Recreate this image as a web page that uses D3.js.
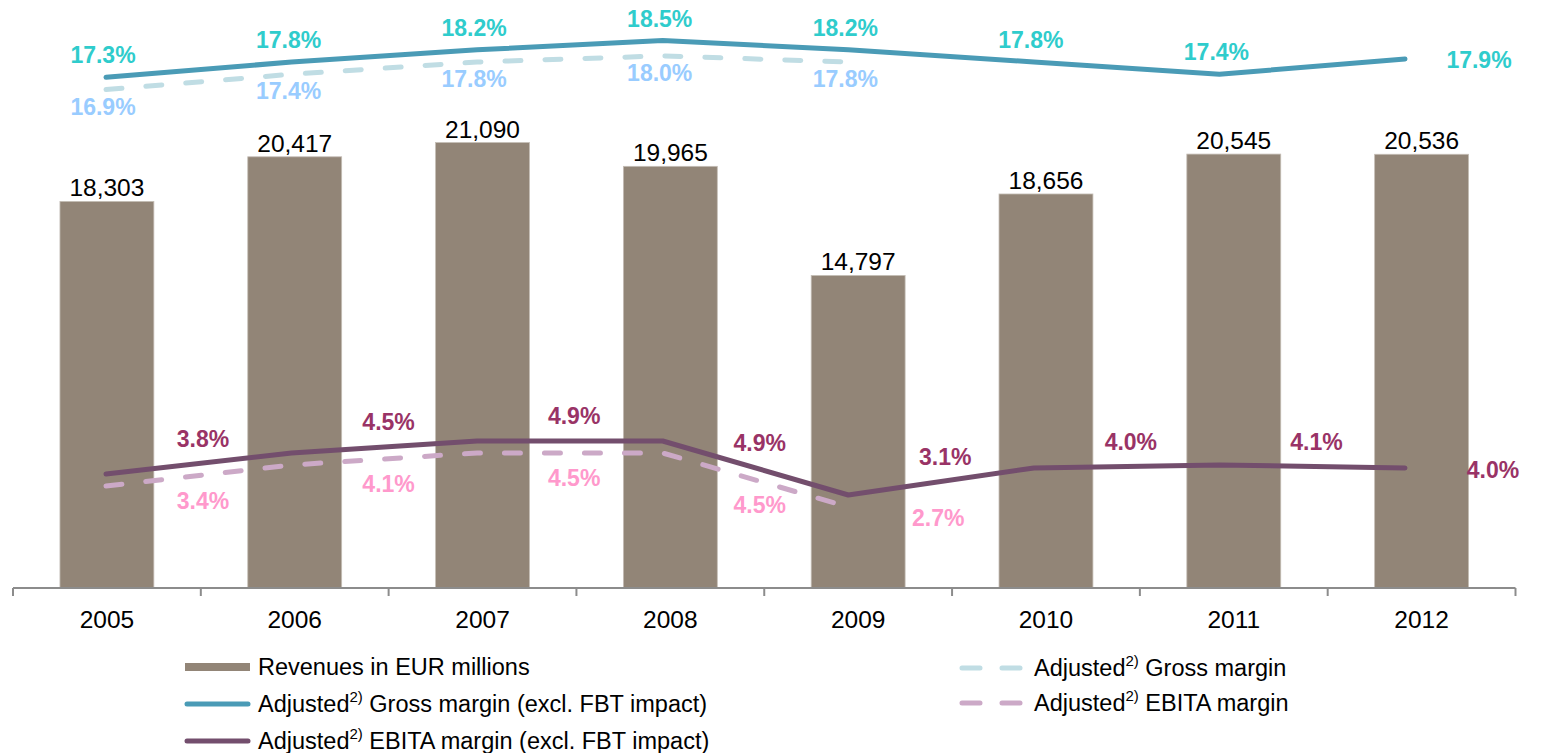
<!DOCTYPE html>
<html>
<head>
<meta charset="utf-8">
<script src="https://cdn.jsdelivr.net/npm/d3@7"></script>
<style>
  html, body { margin: 0; padding: 0; background: #fff; }
  svg { display: block; font-family: Arial, "Liberation Sans", sans-serif; }
</style>
</head>
<body>
<div id="chart"></div>
<script>
// data
const years = ['2005', '2006', '2007', '2008', '2009', '2010', '2011', '2012']
const revenues = [18303, 20417, 21090, 19965, 14797, 18656, 20545, 20536]
const grossExFbt = [17.3, 17.8, 18.2, 18.5, 18.2, 17.8, 17.4, 17.9]
const grossAdj = [16.9, 17.4, 17.8, 18.0, 17.8]
const ebitaExFbt = [3.8, 4.5, 4.9, 4.9, 3.1, 4.0, 4.1, 4.0]
const ebitaAdj = [3.4, 4.1, 4.5, 4.5, 2.7]

const W = 1546, H = 753
const axisY = 588

const svg = d3.select('#chart').append('svg').attr('width', W).attr('height', H)

const x = d3.scaleBand().domain(years).range([13, 1515.5]).paddingInner(0.5).paddingOuter(0.25)
const step = x.step()
const xl = d3.scalePoint().domain(years).range([106, 1405])
const y = d3.scaleLinear().domain([0, 20000]).range([axisY, axisY - 422.4])
const yG = d3.scaleLinear().domain([16, 19]).range([117.1, 25.3])
const yE = d3.scaleLinear().domain([2, 6]).range([528, 408])

// bars
svg.selectAll('.bar')
  .data(revenues)
  .join('rect')
  .attr('class', 'bar')
  .attr('x', (d, i) => x(years[i]))
  .attr('width', x.bandwidth())
  .attr('y', d => y(d))
  .attr('height', d => axisY - y(d))
  .attr('fill', '#928577')
  .attr('stroke', '#c4bdb5')
  .attr('stroke-width', 0.8)

svg.selectAll('.bar-label')
  .data(revenues)
  .join('text')
  .attr('x', (d, i) => x(years[i]) + x.bandwidth() / 2)
  .attr('y', d => y(d) - 5)
  .attr('text-anchor', 'middle')
  .attr('font-size', 24.5)
  .attr('fill', '#000')
  .text(d => d3.format(',')(d))

// x axis
svg.append('line')
  .attr('x1', 13).attr('x2', 13 + step * years.length)
  .attr('y1', axisY).attr('y2', axisY)
  .attr('stroke', '#8c8c8c').attr('stroke-width', 2)
d3.range(years.length + 1).forEach(i => {
  svg.append('line')
    .attr('x1', 13 + i * step).attr('x2', 13 + i * step)
    .attr('y1', axisY).attr('y2', axisY + 8)
    .attr('stroke', '#8c8c8c').attr('stroke-width', 2)
})
svg.selectAll('.year')
  .data(years)
  .join('text')
  .attr('x', d => x(d) + x.bandwidth() / 2)
  .attr('y', 628)
  .attr('text-anchor', 'middle')
  .attr('font-size', 24.5)
  .attr('fill', '#000')
  .text(d => d)

// lines
function drawLine(vals, scale, color, dashed) {
  const line = d3.line().x((d, i) => xl(years[i])).y(d => scale(d))
  svg.append('path')
    .datum(vals)
    .attr('fill', 'none')
    .attr('stroke', color)
    .attr('stroke-width', 5)
    .attr('stroke-linecap', 'round')
    .attr('stroke-linejoin', 'round')
    .attr('stroke-dasharray', dashed ? '16,24' : null)
    .attr('d', line)
}
drawLine(grossAdj, yG, '#c0dde4', true)
drawLine(grossExFbt, yG, '#4a9bb6', false)
drawLine(ebitaAdj, yE, '#cca9c7', true)
drawLine(ebitaExFbt, yE, '#734e6d', false)

const pct = d => d.toFixed(1) + '%'
function labels(vals, pos, color) {
  svg.append('g').selectAll('text')
    .data(vals)
    .join('text')
    .attr('x', (d, i) => pos(d, i)[0])
    .attr('y', (d, i) => pos(d, i)[1])
    .attr('text-anchor', 'middle')
    .attr('dominant-baseline', 'central')
    .attr('font-size', 23)
    .attr('font-weight', 'bold')
    .attr('fill', color)
    .text(pct)
}

// gross margin labels: above / below the points, last one to the right
labels(grossExFbt, (d, i) => i === grossExFbt.length - 1
  ? [xl(years[i]) + 74, yG(d) + 1]
  : [xl(years[i]) - 3, yG(d) - 22], '#2fcccc')
labels(grossAdj, (d, i) => [xl(years[i]) - 3, yG(d) + 17], '#99ccff')

// EBITA labels: in the gaps, around the segment midpoints
const mid = (vals, i) => i < vals.length - 1 ? (yE(vals[i]) + yE(vals[i + 1])) / 2 : yE(vals[i])
labels(ebitaExFbt, (d, i) => i === ebitaExFbt.length - 1
  ? [xl(years[i]) + 88, yE(d) + 2]
  : [xl(years[i]) + 97, mid(ebitaExFbt, i) - 25], '#993366')
labels(ebitaAdj, (d, i) => i === ebitaAdj.length - 1
  ? [xl(years[i]) + 90, yE(d) + 11]
  : [xl(years[i]) + 97, mid(ebitaAdj, i) + 25], '#ff99cc')

// legend
const legend = [
  { x: 185, y: 667, type: 'bar', color: '#928577', pre: 'Revenues in EUR millions' },
  { x: 185, y: 704, type: 'line', color: '#4a9bb6', pre: 'Adjusted', post: ' Gross margin (excl. FBT impact)' },
  { x: 185, y: 741, type: 'line', color: '#734e6d', pre: 'Adjusted', post: ' EBITA margin (excl. FBT impact)' },
  { x: 960, y: 668, type: 'dash', color: '#c0dde4', pre: 'Adjusted', post: ' Gross margin' },
  { x: 960, y: 703, type: 'dash', color: '#cca9c7', pre: 'Adjusted', post: ' EBITA margin' }
]
legend.forEach(l => {
  const sw = l.type === 'dash' ? 62 : 65
  if (l.type === 'bar') {
    svg.append('rect').attr('x', l.x).attr('y', l.y - 4).attr('width', sw).attr('height', 8).attr('fill', l.color)
  } else {
    svg.append('line')
      .attr('x1', l.x + 2).attr('x2', l.x + sw - 2).attr('y1', l.y).attr('y2', l.y)
      .attr('stroke', l.color).attr('stroke-width', 5).attr('stroke-linecap', 'round')
      .attr('stroke-dasharray', l.type === 'dash' ? '18,22' : null)
  }
  const t = svg.append('text')
    .attr('x', l.x + sw + (l.type === 'dash' ? 12 : 8))
    .attr('y', l.y)
    .attr('dominant-baseline', 'central')
    .attr('font-size', 23.5)
    .attr('fill', '#000')
  t.append('tspan').text(l.pre)
  if (l.post) {
    t.append('tspan').attr('font-size', 15).attr('dy', -8).text('2)')
    t.append('tspan').attr('dy', 8).text(l.post)
  }
})
</script>
</body>
</html>
